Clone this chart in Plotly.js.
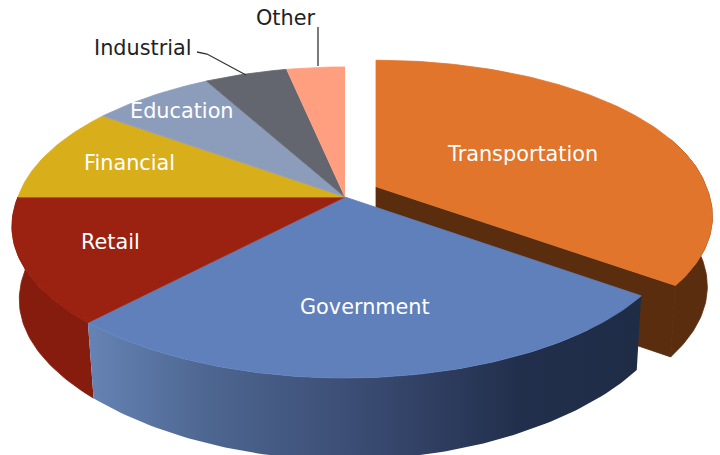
<!DOCTYPE html>
<html>
<head>
<meta charset="utf-8">
<script src="https://cdn.plot.ly/plotly-3.0.1.min.js"></script>
<style>html,body{margin:0;padding:0;background:#fff}#chart{width:720px;height:455px}</style>
</head>
<body>
<div id="chart"></div>
<script>
// Data
const categories = ['Transportation','Government','Retail','Financial','Education','Industrial','Other'];
const shares = [35, 27, 13, 10, 7, 4.7, 3.3];

// Styles
const topColors = ['#E0752B','#6080BC','#9B2110','#D9AE1B','#8C9DBB','#63666F','#FF9F80'];
const sideColors = ['#5A2D0F',null,'#861C0E',null,null,null,null];

// Projection of the tilted disc onto the chart's pixel-scaled axes
const CX=345, CY=197, B=327, A=152.7, K=0.1565;
const EXPLODE={x:31,y:-10,back:0.96,grow:1.01,d:-3};
const MAIN={x:0,y:0,back:0.985,grow:1,d:0};
function project(deg, level, off){
  const t=deg*Math.PI/180, c=Math.cos(t), v=Math.sin(t), s=1/(1-K*v);
  let X=B*c*s*off.grow, Y=A*v*s;
  if(v>0) X*=1+0.035*Math.abs(c)*v; else Y*=off.back;
  const fx=level?(c<0?0.978:0.985):1;
  const depth=level?73+off.d+9*Math.pow(Math.max(v,0),4):0;
  return [CX+off.x+X*fx, CY+off.y+Y+depth];
}
const total=shares.reduce((a,b)=>a+b,0);
let cursor=-90;
const spans=shares.map(v=>{const a=cursor;cursor+=v/total*360;return [a,cursor];});
const arc=(a,b,level,off)=>{const n=Math.max(2,Math.ceil(Math.abs(b-a)));const p=[];
  for(let i=0;i<=n;i++)p.push(project(a+(b-a)*i/n,level,off));return p;};
function poly(pts,color,name,extra){
  return Object.assign({type:'scatter',mode:'lines',x:pts.map(p=>p[0]),y:pts.map(p=>p[1]),
    fill:'toself',fillcolor:color,line:{color:color,width:0.8},hoverinfo:'skip',showlegend:false,name:name},extra||{});
}
const traces=[];
// Exploded slice: walls first
const [ta,tb]=spans[0];
const apexTop=[CX+EXPLODE.x,CY+EXPLODE.y], apexBot=[CX+EXPLODE.x,CY+EXPLODE.y+70];
traces.push(poly([apexTop,project(tb,0,EXPLODE),project(tb,1,EXPLODE),apexBot,apexTop],sideColors[0],categories[0]+' cut'));
traces.push(poly(arc(-20,tb,0,EXPLODE).concat(arc(tb,-20,1,EXPLODE)),sideColors[0],categories[0]+' side'));
traces.push(poly([apexTop].concat(arc(ta,tb,0,EXPLODE)),topColors[0],categories[0]));
// Front walls
traces.push(poly(arc(spans[2][0],spans[2][1],0,MAIN).concat(arc(spans[2][1],spans[2][0],1,MAIN)),sideColors[2],categories[2]+' side'));
const govEdge=arc(spans[1][0],spans[1][1],0,MAIN).concat(arc(spans[1][1],spans[1][0],1,MAIN));
traces.push(poly(govEdge,'#3c4e75',categories[1]+' side',{
  line:{width:0,color:'rgba(0,0,0,0)'},
  fillgradient:{type:'horizontal',colorscale:[[0,'#6583B4'],[0.22,'#4d6690'],[0.5,'#3a4b72'],[0.78,'#222f4c'],[1,'#1f2c46']]}
}));
// Top faces
for(let i=1;i<categories.length;i++){
  traces.push(poly([[CX,CY]].concat(arc(spans[i][0],spans[i][1],0,MAIN)),topColors[i],categories[i]));
}
// Leader lines
const leaders=[{x:[197,207,246],y:[52,54,75]},{x:[318,318],y:[27,66]}];
leaders.forEach(l=>traces.push({type:'scatter',mode:'lines',x:l.x,y:l.y,line:{color:'#333',width:1.3},hoverinfo:'skip',showlegend:false}));

// Labels
const labelPos=[[522,154],[365,307],[110,242],[129,163],[182,111],[143,48],[285,18]];
const labelColors=['#fff','#fff','#fff','#fff','#fff','#222','#222'];
const annotations=categories.map((c,i)=>({x:labelPos[i][0],y:labelPos[i][1],text:c,showarrow:false,
  xref:'x',yref:'y',xanchor:'center',yanchor:'middle',font:{family:'"DejaVu Sans", Verdana, sans-serif',size:20.8,color:labelColors[i]}}));

Plotly.newPlot('chart',traces,{
  width:720,height:455,margin:{l:0,r:0,t:0,b:0},paper_bgcolor:'#fff',plot_bgcolor:'#fff',showlegend:false,
  xaxis:{range:[0,720],visible:false,fixedrange:true},
  yaxis:{range:[455,0],visible:false,fixedrange:true},
  annotations:annotations
},{displayModeBar:false,staticPlot:true});
</script>
</body>
</html>
